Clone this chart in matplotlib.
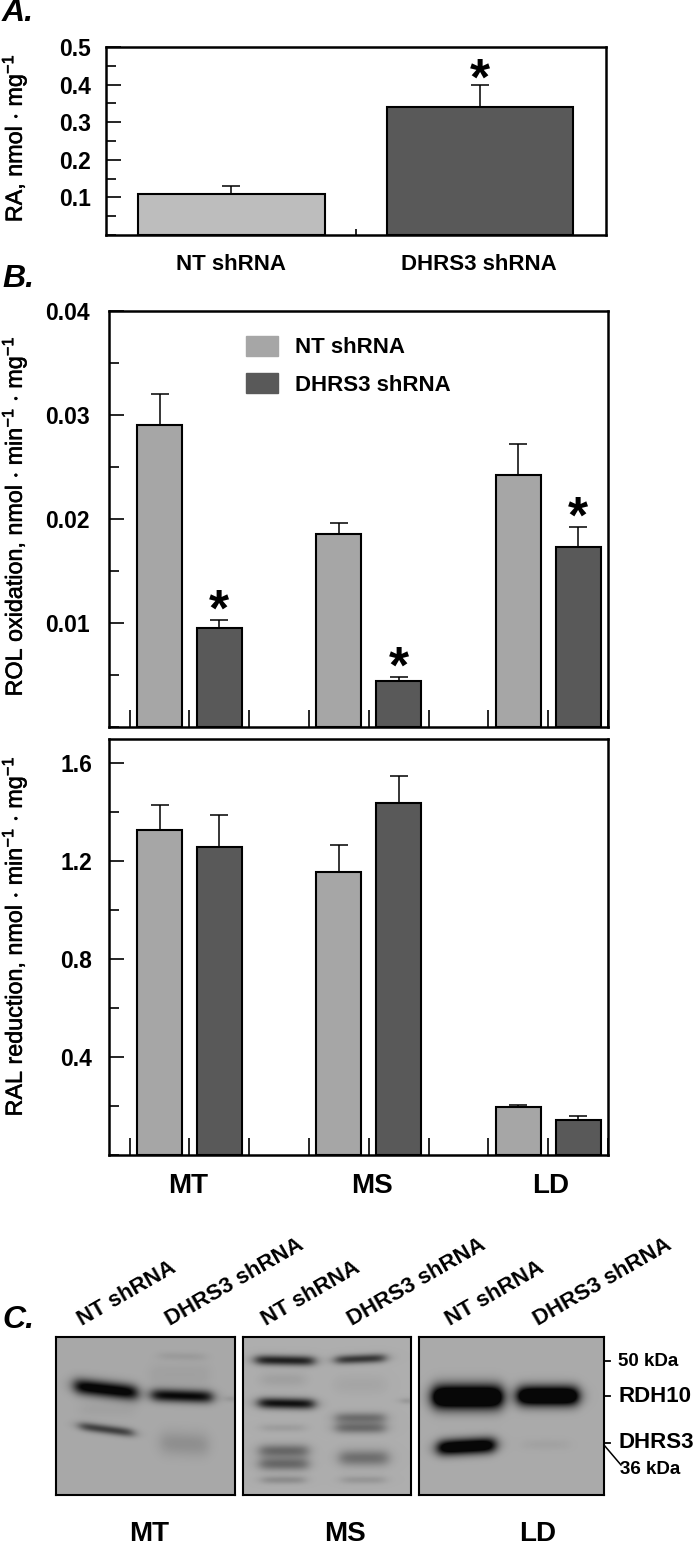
import numpy as np
import matplotlib
matplotlib.use('Agg')
import matplotlib.pyplot as plt
import matplotlib.patheffects as pe
from matplotlib.patches import Patch
from matplotlib.ticker import MultipleLocator

plt.rcParams['font.family'] = ['Liberation Sans', 'DejaVu Sans']
plt.rcParams['mathtext.fontset'] = 'custom'
plt.rcParams['mathtext.rm'] = 'Liberation Sans'
plt.rcParams['mathtext.default'] = 'regular'

W, H = 693, 1545

# panel A
a_labels = ['NT shRNA', 'DHRS3 shRNA']
a_values = [0.11, 0.34]
a_errors = [0.02, 0.06]

# panel B, order MT, MS, LD
groups = ['MT', 'MS', 'LD']
rol_nt = [0.0290, 0.0186, 0.0242]
rol_nt_err = [0.0030, 0.0010, 0.0030]
rol_kd = [0.0095, 0.0044, 0.0173]
rol_kd_err = [0.0008, 0.0004, 0.0019]
ral_nt = [1.33, 1.155, 0.195]
ral_nt_err = [0.10, 0.11, 0.010]
ral_kd = [1.26, 1.44, 0.145]
ral_kd_err = [0.13, 0.11, 0.015]

# blot bands: x0, x1, y at x0, y at x1, half thickness, darkness (figure pixels)
bands_mt = [(75, 137, 1386, 1393, 8, 1.15), (152, 212, 1395, 1397, 6.5, 1.0),
            (80, 133, 1426, 1433, 4.5, 0.65), (161, 208, 1443, 1445, 12, 0.16),
            (160, 205, 1356, 1357, 4, 0.08), (150, 210, 1375, 1375, 12, 0.05),
            (229, 234, 1399, 1399, 3, 0.22), (80, 135, 1410, 1410, 8, 0.04)]
bands_ms = [(256, 314, 1360, 1361, 5, 0.85), (336, 385, 1360, 1358, 4.5, 0.72),
            (259, 314, 1403, 1404, 5.5, 0.95), (336, 385, 1418, 1418, 5.5, 0.38),
            (336, 385, 1428, 1428, 5.5, 0.40), (260, 308, 1451, 1451, 6.5, 0.42),
            (260, 308, 1464, 1464, 6.5, 0.42), (340, 388, 1458, 1458, 8, 0.38),
            (262, 305, 1480, 1480, 4, 0.20), (342, 385, 1480, 1480, 4, 0.14),
            (262, 305, 1428, 1428, 4, 0.10), (262, 305, 1380, 1380, 7, 0.08),
            (404, 410, 1401, 1401, 3, 0.25), (336, 385, 1385, 1385, 9, 0.05)]
bands_ld = [(433, 502, 1397, 1397, 12, 1.7), (518, 578, 1396, 1396, 10, 1.6),
            (438, 495, 1448, 1445, 8, 1.35), (522, 570, 1445, 1445, 6, 0.05)]

bar_nt_a = '#bdbdbd'
bar_nt_b = '#a6a6a6'
bar_kd = '#595959'


def px_axes(fig, x0, y0, x1, y1, **kw):
    return fig.add_axes([x0 / W, 1 - y1 / H, (x1 - x0) / W, (y1 - y0) / H], **kw)


def style_axes(ax, major, minor, xticks, pad):
    for s in ax.spines.values():
        s.set_linewidth(1.8)
    ax.yaxis.set_major_locator(MultipleLocator(major))
    ax.yaxis.set_minor_locator(MultipleLocator(minor))
    ax.tick_params(axis='y', which='major', direction='in', length=11, width=1.2, pad=pad)
    ax.tick_params(axis='y', which='minor', direction='in', length=7, width=1.2)
    ax.set_xticks(xticks)
    ax.set_xticklabels([])
    ax.tick_params(axis='x', direction='in', length=12, width=1.2)


def bars(ax, x, val, err, color, width):
    ax.bar(x, val, width=width, color=color, edgecolor='black', linewidth=1.5)
    ax.errorbar(x, val, yerr=[np.zeros(len(err)), err], fmt='none', ecolor='black',
                elinewidth=1.1, capsize=6.5, capthick=1.1)


def star(ax, x, y, off):
    ax.annotate('*', (x, y), xytext=(0, off), textcoords='offset points', ha='center',
                va='bottom', fontsize=37, fontweight='bold')


def blot(ax, x0, x1, y0, y1, bands, base):
    xs, ys = np.meshgrid(np.arange(x0, x1) + 0.5, np.arange(y0, y1) + 0.5)
    dark = np.zeros(xs.shape)
    for bx0, bx1, by0, by1, t, d in bands:
        yc = by0 + (by1 - by0) * (xs - bx0) / (bx1 - bx0)
        edge = 1 / (1 + np.exp((bx0 - xs) / 3.5)) * 1 / (1 + np.exp((xs - bx1) / 3.5))
        dark += d * edge * np.exp(-((ys - yc) / t) ** 2)
    dark = np.clip(dark, 0, 1)
    img = base * (1 - dark) + 0.03 * dark
    ax.imshow(img, cmap='gray', vmin=0, vmax=1, extent=(x0, x1, y1, y0), aspect='auto',
              interpolation='bilinear')
    ax.set_xticks([])
    ax.set_yticks([])
    for s in ax.spines.values():
        s.set_linewidth(1.5)


fig = plt.figure(figsize=(W / 100, H / 100), dpi=100)

# panel A
ax_a = px_axes(fig, 106, 47, 606, 235)
x_a = np.array([1, 2])
bars(ax_a, x_a, a_values, a_errors, [bar_nt_a, bar_kd], 0.75)
star(ax_a, 2, a_values[1] + a_errors[1], -15)
ax_a.set_xlim(0.495, 2.507)
ax_a.set_ylim(0, 0.5)
style_axes(ax_a, 0.1, 0.05, [1.5], 11)
ax_a.set_yticks([0.1, 0.2, 0.3, 0.4, 0.5])
ax_a.set_yticklabels(['0.1', '0.2', '0.3', '0.4', '0.5'], fontsize=16.5, fontweight='bold')
ax_a.tick_params(axis='x', length=4.5)

# panel B
x_nt = np.array([1, 4, 7])
x_kd = np.array([2, 5, 8])
x_minor = np.arange(0.5, 8.6, 1)

ax_rol = px_axes(fig, 109, 311, 608, 727)
bars(ax_rol, x_nt, rol_nt, rol_nt_err, bar_nt_b, 0.75)
bars(ax_rol, x_kd, rol_kd, rol_kd_err, bar_kd, 0.75)
for x, v, e in zip(x_kd, rol_kd, rol_kd_err):
    star(ax_rol, x, v + e, -12)
ax_rol.set_xlim(0.155, 8.5)
ax_rol.set_ylim(0, 0.04)
style_axes(ax_rol, 0.01, 0.005, x_minor, 14)
ax_rol.set_yticks([0.01, 0.02, 0.03, 0.04])
ax_rol.set_yticklabels(['0.01', '0.02', '0.03', '0.04'], fontsize=16.5, fontweight='bold')
ax_rol.legend(handles=[Patch(color=bar_nt_b, label=a_labels[0]), Patch(color=bar_kd, label=a_labels[1])],
              loc='upper left', bbox_to_anchor=(0.274, 0.941), frameon=False,
              handlelength=1.45, handleheight=1.05, labelspacing=0.65, handletextpad=0.75,
              borderpad=0, borderaxespad=0, prop={'weight': 'bold', 'size': 16})

ax_ral = px_axes(fig, 109, 739, 608, 1155)
bars(ax_ral, x_nt, ral_nt, ral_nt_err, bar_nt_b, 0.75)
bars(ax_ral, x_kd, ral_kd, ral_kd_err, bar_kd, 0.75)
ax_ral.set_xlim(0.155, 8.5)
ax_ral.set_ylim(0, 1.7)
style_axes(ax_ral, 0.4, 0.2, x_minor, 12)
ax_ral.set_yticks([0.4, 0.8, 1.2, 1.6])
ax_ral.set_yticklabels(['0.4', '0.8', '1.2', '1.6'], fontsize=16.5, fontweight='bold')

# blots
for x0, x1, bands, base in [(56, 235, bands_mt, 0.66), (243, 411, bands_ms, 0.68), (419, 604, bands_ld, 0.67)]:
    blot(px_axes(fig, x0, 1337, x1, 1495), x0, x1, 1337, 1495, bands, base)

# text layer in figure pixels
top = px_axes(fig, 0, 0, W, H)
top.set_xlim(0, W)
top.set_ylim(H, 0)
top.axis('off')
top.patch.set_alpha(0)

for s, y in [('A.', 13), ('B.', 279), ('C.', 1320)]:
    top.text(2, y, s, fontsize=23, fontweight='bold', style='italic', va='center')

top.text(231, 265, a_labels[0], fontsize=16, fontweight='bold', ha='center', va='center')
top.text(479, 265, a_labels[1], fontsize=16, fontweight='bold', ha='center', va='center')
for s, x in zip(groups, [188, 372, 551]):
    top.text(x, 1186, s, fontsize=20, fontweight='bold', ha='center', va='center')
for s, x in zip(groups, [149, 345, 538]):
    top.text(x, 1534, s, fontsize=20, fontweight='bold', ha='center', va='center')

heavy = [pe.withStroke(linewidth=0.4, foreground='black')]
top.text(14, 138, r'RA, nmol $\cdot$ mg$^{-1}$', fontsize=16.8, rotation=90, ha='center', va='center', path_effects=heavy)
top.text(14, 516, r'ROL oxidation, nmol $\cdot$ min$^{-1}$ $\cdot$ mg$^{-1}$', fontsize=16.8, rotation=90, ha='center', va='center', path_effects=heavy)
top.text(14, 936, r'RAL reduction, nmol $\cdot$ min$^{-1}$ $\cdot$ mg$^{-1}$', fontsize=16.8, rotation=90, ha='center', va='center', path_effects=heavy)

for x, s in [(84, a_labels[0]), (172, a_labels[1]), (268, a_labels[0]), (355, a_labels[1]), (453, a_labels[0]), (540, a_labels[1])]:
    top.text(x, 1330, s, fontsize=16, fontweight='bold', rotation=30, rotation_mode='anchor', ha='left', va='bottom')

top.text(618, 1361, '50 kDa', fontsize=13.5, fontweight='bold', va='center')
top.text(618, 1397, 'RDH10', fontsize=16, fontweight='bold', va='center')
top.text(618, 1443, 'DHRS3', fontsize=16, fontweight='bold', va='center')
top.text(620, 1470, '36 kDa', fontsize=13.5, fontweight='bold', va='center')
for y in [1361, 1396, 1443]:
    top.plot([604, 610], [y, y], color='black', lw=1.3)
top.plot([604, 621], [1445, 1465], color='black', lw=1.1)

fig.savefig('out.png', dpi=100)
